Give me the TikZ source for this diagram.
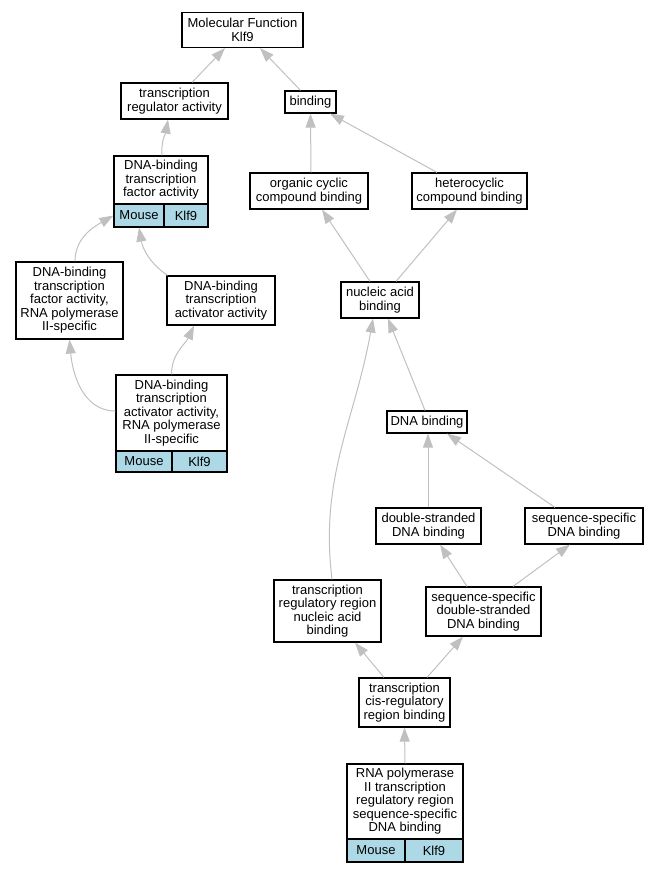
\documentclass[tikz,border=0pt]{standalone}
\usepackage{fontspec}
\setmainfont{Liberation Sans}
\usetikzlibrary{arrows.meta}
\definecolor{edgegray}{HTML}{C0C0C0}
\definecolor{cellblue}{HTML}{ADD8E6}
\newcommand{\termfont}{\fontsize{13}{13.5}\selectfont}
\begin{document}
\begin{tikzpicture}[x=1pt,y=1pt,>={Triangle[length=14pt,width=10pt]},
	term/.style={draw,fill=white,line width=1.2pt,align=center,inner sep=0pt,font=\termfont},
	cell/.style={term,fill=cellblue},
	isa/.style={->,edgegray,line width=1pt}]
	\useasboundingbox (0,0) rectangle (656,-872);
	% terms
	\node[term,minimum width=121pt,minimum height=35pt] (mf) at (242.5,-30) {Molecular Function\\Klf9};
	\node[term,minimum width=107pt,minimum height=36pt] (tra) at (174.5,-101) {transcription\\regulator activity};
	\node[term,minimum width=51pt,minimum height=22pt] (bind) at (310.5,-102) {binding};
	\node[term,minimum width=94pt,minimum height=48pt] (dbtfa) at (161,-180) {DNA-binding\\transcription\\factor activity};
	\node[cell,minimum width=50pt,minimum height=23pt] (dbtfaM) at (139,-215.5) {Mouse};
	\node[cell,minimum width=44pt,minimum height=23pt] (dbtfaK) at (186,-215.5) {Klf9};
	\node[term,minimum width=118pt,minimum height=36pt] (occb) at (309,-191) {organic cyclic\\compound binding};
	\node[term,minimum width=115pt,minimum height=36pt] (hcb) at (469.5,-191) {heterocyclic\\compound binding};
	\node[term,minimum width=107pt,minimum height=77pt] (dbtfa2) at (69.5,-300.5) {DNA-binding\\transcription\\factor activity,\\RNA polymerase\\II-specific};
	\node[term,minimum width=108pt,minimum height=49pt] (dbtaa) at (221,-300.5) {DNA-binding\\transcription\\activator activity};
	\node[term,minimum width=78pt,minimum height=36pt] (nab) at (380,-300) {nucleic acid\\binding};
	\node[term,minimum width=111pt,minimum height=76pt] (dbtaa2) at (171.5,-413) {DNA-binding\\transcription\\activator activity,\\RNA polymerase\\II-specific};
	\node[cell,minimum width=56pt,minimum height=21pt] (dbtaa2M) at (144,-461.5) {Mouse};
	\node[cell,minimum width=55pt,minimum height=21pt] (dbtaa2K) at (199.5,-461.5) {Klf9};
	\node[term,minimum width=80pt,minimum height=22pt] (dnab) at (427,-422) {DNA binding};
	\node[term,minimum width=105pt,minimum height=36pt] (dsdb) at (428.5,-526) {double-stranded\\DNA binding};
	\node[term,minimum width=118pt,minimum height=36pt] (ssdb) at (584,-526) {sequence-specific\\DNA binding};
	\node[term,minimum width=107pt,minimum height=62pt] (trrnab) at (327.5,-611) {transcription\\regulatory region\\nucleic acid\\binding};
	\node[term,minimum width=115pt,minimum height=49pt] (ssds) at (483.5,-611.5) {sequence-specific\\double-stranded\\DNA binding};
	\node[term,minimum width=91pt,minimum height=49pt] (tcrb) at (404.5,-702.5) {transcription\\cis-regulatory\\region binding};
	\node[term,minimum width=116pt,minimum height=75pt] (rna2) at (405,-801.5) {RNA polymerase\\II transcription\\regulatory region\\sequence-specific\\DNA binding};
	\node[cell,minimum width=58pt,minimum height=23pt] (rna2M) at (376,-850.5) {Mouse};
	\node[cell,minimum width=58pt,minimum height=23pt] (rna2K) at (434,-850.5) {Klf9};
	% is_a edges
	\draw[isa] ([xshift=17.5pt]tra.north) -- ([xshift=-17.5pt]mf.south);
	\draw[isa] ([xshift=-10pt]bind.north) -- ([xshift=17.5pt]mf.south);
	\draw[isa] ([xshift=1pt]dbtfa.north) to[out=95,in=-100] ([xshift=-6.5pt]tra.south);
	\draw[isa] ([xshift=2pt]occb.north) -- (bind.south);
	\draw[isa] ([xshift=-32.5pt]hcb.north) -- ([xshift=19.5pt]bind.south);
	\draw[isa] ([xshift=-10pt]nab.north) -- ([xshift=13pt]occb.south);
	\draw[isa] ([xshift=16pt]nab.north) -- ([xshift=-12.5pt]hcb.south);
	\draw[isa] ([xshift=5.5pt]dbtfa2.north) to[out=90,in=-150] (dbtfaM.west);
	\draw[isa] ([xshift=1pt]dbtaa.north west) to[out=145,in=-80] (dbtfaM.south);
	\draw[isa] ([yshift=2pt]dbtaa2.west) to[out=180,in=-85] (dbtfa2.south);
	\draw[isa] (dbtaa2.north) to[out=90,in=-115] ([xshift=-27pt]dbtaa.south);
	\draw[isa] ([xshift=-2pt]dnab.north) -- ([xshift=8pt]nab.south);
	\draw[isa] ([xshift=4.5pt]trrnab.north) to[out=97,in=-100] ([xshift=-7pt]nab.south);
	\draw[isa] ([xshift=-0.5pt]dsdb.north) -- ([xshift=1pt]dnab.south);
	\draw[isa] ([xshift=-29pt]ssdb.north) -- ([xshift=20pt]dnab.south);
	\draw[isa] ([xshift=-16.5pt]ssds.north) -- ([xshift=11.5pt]dsdb.south);
	\draw[isa] ([xshift=29.5pt]ssds.north) -- ([xshift=-14pt]ssdb.south);
	\draw[isa] ([xshift=-20.5pt]tcrb.north) -- ([xshift=27.5pt]trrnab.south);
	\draw[isa] ([xshift=22.5pt]tcrb.north) -- ([xshift=-20.5pt]ssds.south);
	\draw[isa] (rna2.north) -- (tcrb.south);
\end{tikzpicture}
\end{document}
